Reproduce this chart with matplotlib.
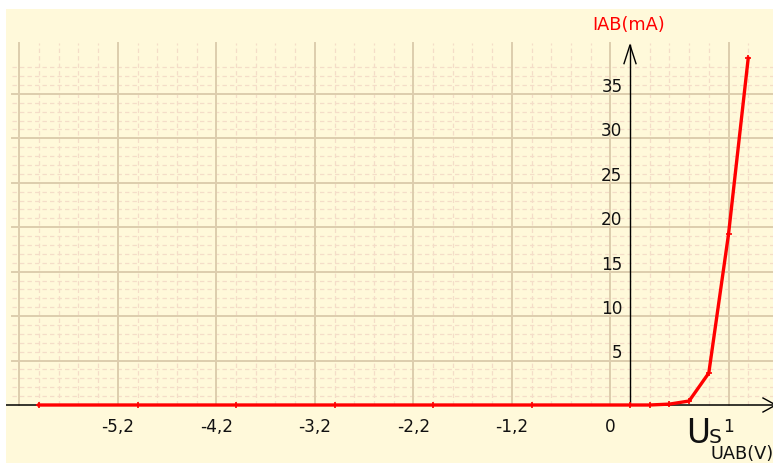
import numpy as np
import matplotlib

matplotlib.use("Agg")
import matplotlib.pyplot as plt

# diode characteristic I(U)
u_volts = [-6.0, -5.0, -4.0, -3.0, -2.0, -1.0, 0.0, 0.2, 0.4, 0.6, 0.8, 1.0, 1.2]
i_ma = [0, 0, 0, 0, 0, 0, 0, 0, 0.1, 0.45, 3.6, 19.2, 39.0]

x_tick_pos = [-5.2, -4.2, -3.2, -2.2, -1.2, -0.2, 1.0]
x_tick_labels = ["-5,2", "-4,2", "-3,2", "-2,2", "-1,2", "0", "1"]
y_ticks = [5, 10, 15, 20, 25, 30, 35]

BG = "#FFF9DA"
MAJOR = "#DDCDAD"
MINOR = "#F4DDC8"

fig = plt.figure(figsize=(7.73, 4.63), dpi=100, facecolor="white")
# pixel scale: 98.5 px per volt, 8.89 px per mA, origin at (630, 405)
ax = fig.add_axes([6 / 773, 0, 767 / 773, 454 / 463])
ax.set_facecolor(BG)
ax.set_xlim((6 - 630) / 98.5, (773 - 630) / 98.5)
ax.set_ylim((405 - 463) / 8.89, (405 - 9) / 8.89)
for s in ax.spines.values():
    s.set_visible(False)
ax.set_xticks([])
ax.set_yticks([])

grid_top = 40.7
x_left = (12 - 630) / 98.5
x_right = 1.6

# minor grid
for yv in range(1, 39):
    if yv % 5:
        ax.plot([x_left, x_right], [yv, yv], color=MINOR, lw=0.9,
                ls=(0, (3.5, 2.5)), zorder=1)
major_x = [-6.2] + x_tick_pos
for xv in np.arange(-6.2, 1.3, 0.2):
    if min(abs(xv - m) for m in major_x) > 0.05:
        ax.plot([xv, xv], [0, grid_top], color=MINOR, lw=0.9,
                ls=(0, (3.5, 2.5)), zorder=1)

# major grid
for yv in y_ticks:
    ax.plot([x_left, x_right], [yv, yv], color=MAJOR, lw=1.4, zorder=2)
for xv in major_x:
    ax.plot([xv, xv], [0, grid_top], color=MAJOR, lw=1.4, zorder=2)

# axes with open arrowheads
ax.plot([-7, 1.48], [0, 0], color="black", lw=1.1, zorder=3)
ax.plot([1.35, 1.48, 1.35], [0.79, 0, -0.79], color="black", lw=1.0,
        zorder=3, clip_on=False)
ax.plot([0, 0], [0, 40.5], color="black", lw=1.0, zorder=3)
ax.plot([-0.061, 0, 0.061], [38.4, 40.5, 38.4], color="black", lw=1.0, zorder=3)

# the curve
ax.plot(u_volts, i_ma, color="#FF0000", lw=2.4, marker="+", ms=5, mew=1.2,
        zorder=4, solid_joinstyle="round")

# tick labels
for xv, lab in zip(x_tick_pos, x_tick_labels):
    ax.text(xv, -2.47, lab, ha="center", va="center", fontsize=12.2,
            color="#111111", zorder=5)
for yv in y_ticks:
    ax.text(-0.075, yv + 0.8, str(yv), ha="right", va="center", fontsize=12.2,
            color="#111111", zorder=5)

# axis names
ax.text(-0.015, 42.7, "IAB(mA)", ha="center", va="center", fontsize=12.8,
        color="#FF0000", zorder=5)
ax.text((686 - 630) / 98.5, (405 - 443) / 8.89, "U", ha="left", va="baseline",
        fontsize=23.5, color="#111111", zorder=5)
ax.text((709 - 630) / 98.5, (405 - 443) / 8.89, "S", ha="left", va="baseline",
        fontsize=14.5, color="#111111", zorder=5)
ax.text((710 - 630) / 98.5, (405 - 459) / 8.89, "UAB(V)", ha="left",
        va="baseline", fontsize=12.8, color="#111111", zorder=5, clip_on=False)

fig.savefig("out.png", dpi=100, facecolor="white")
